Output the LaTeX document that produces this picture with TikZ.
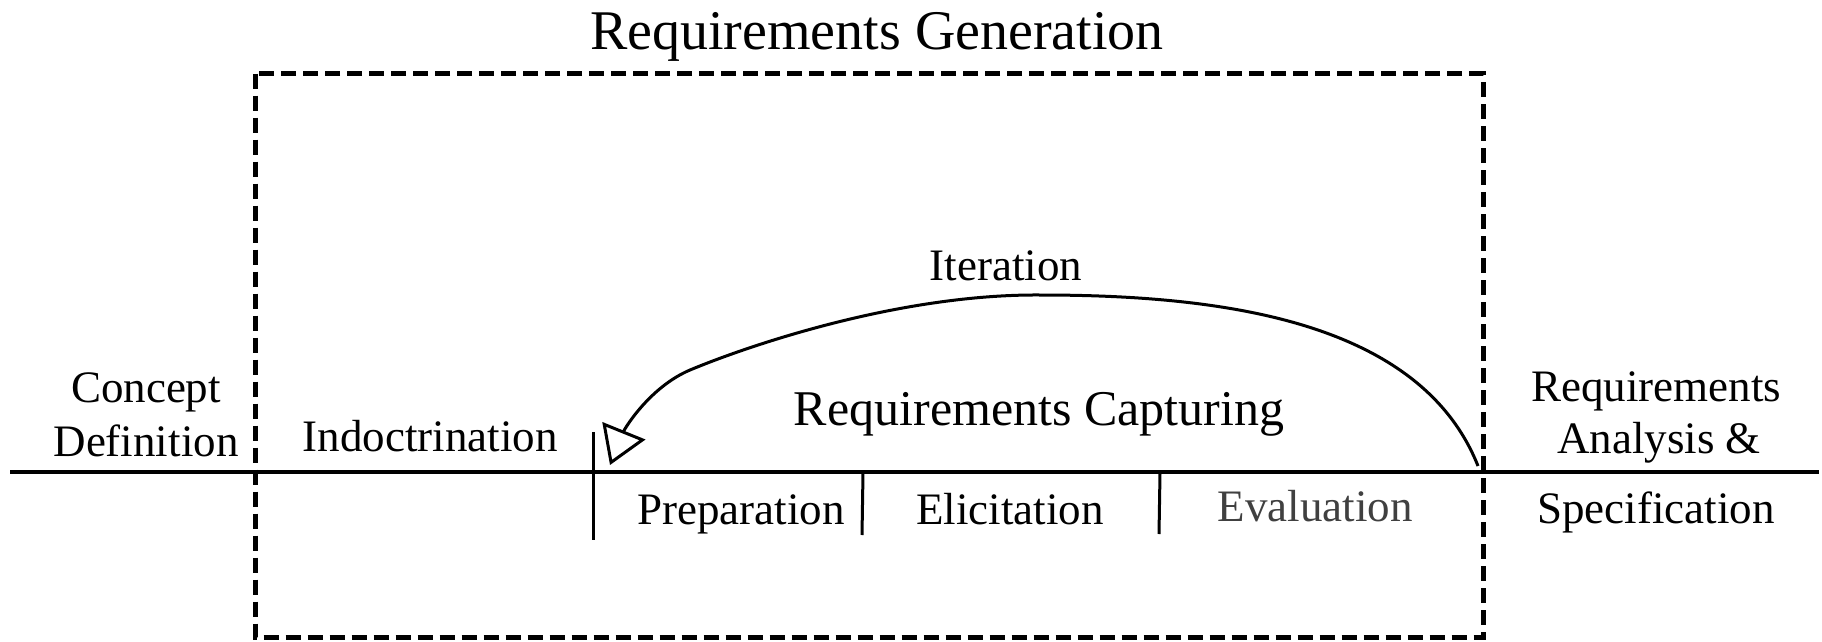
\documentclass[tikz,border=0pt]{standalone}
\usepackage{fontspec}
\setmainfont{Liberation Serif}
\usetikzlibrary{arrows.meta}
\definecolor{evalgray}{HTML}{404040}
\tikzset{
  lbl/.style={inner sep=0pt, anchor=base, font=\fontsize{45}{50}\selectfont},
  axis/.style={line width=3.3pt},
  tick/.style={line width=3pt},
  boundary/.style={line width=5pt, dash pattern=on 15pt off 7pt},
  loop/.style={line width=3pt, -{Triangle[open, length=37pt, width=46pt]}}
}
\begin{document}
\begin{tikzpicture}[x=1pt, y=-1pt]
  \useasboundingbox (0,0) rectangle (1822,642);

  % phase boundary of requirements generation
  \draw[boundary] (255,73.5) rectangle (1483,637);
  \node[inner sep=0pt, anchor=base, font=\fontsize{56}{60}\selectfont] (title) at (877,49) {Requirements Generation};

  % time line
  \coordinate (tl-left) at (10,472);
  \coordinate (tl-right) at (1819,472);
  \draw[axis] (tl-left) -- (tl-right);

  % sub-phase separators
  \coordinate (t1a) at (593,432);
  \coordinate (t1b) at (593,540);
  \coordinate (t2a) at (863,473);
  \coordinate (t2b) at (862,535);
  \coordinate (t3a) at (1160,473);
  \coordinate (t3b) at (1159,534);
  \draw[tick] (t1a) -- (t1b);
  \draw[tick] (t2a) -- (t2b);
  \draw[tick] (t3a) -- (t3b);

  % labels
  \node[lbl] (concept) at (146,402) {Concept};
  \node[lbl] (definition) at (146,456) {Definition};
  \node[lbl] (indoc) at (430,451) {Indoctrination};
  \node[lbl, font=\fontsize{50}{55}\selectfont] (capture) at (1039,425) {Requirements Capturing};
  \node[lbl] (iteration) at (1006,280) {Iteration};
  \node[lbl] (prep) at (741,524) {Preparation};
  \node[lbl] (elic) at (1010,524) {Elicitation};
  \node[lbl, text=evalgray] (eval) at (1315,521) {Evaluation};
  \node[lbl] (ras1) at (1656,401) {Requirements};
  \node[lbl] (ras2) at (1659,453) {Analysis \&};
  \node[lbl] (ras3) at (1656,523) {Specification};

  % iteration loop
  \coordinate (loop-start) at (1478,466);
  \coordinate (loop-top) at (1040,295);
  \coordinate (loop-bend) at (690,370);
  \coordinate (loop-end) at (610,465);
  \draw[loop] (loop-start)
    .. controls (1420,320) and (1220,295) .. (loop-top)
    .. controls (900,294) and (750,345) .. (loop-bend)
    .. controls (650,387) and (625,428) .. (loop-end);
\end{tikzpicture}
\end{document}
